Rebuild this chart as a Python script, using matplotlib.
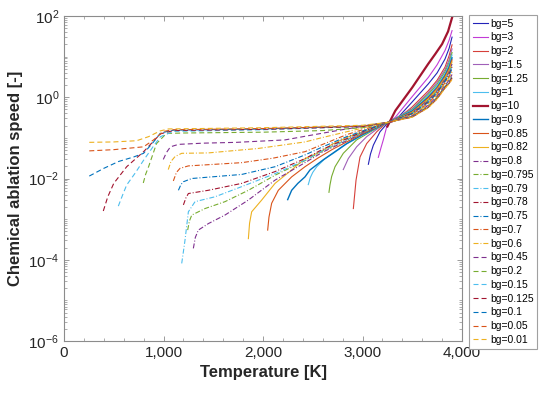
import numpy as np
import matplotlib
matplotlib.use("Agg")
import matplotlib.pyplot as plt
from matplotlib.ticker import FuncFormatter, LogLocator, MultipleLocator, NullFormatter

plt.rcParams['font.family'] = ['Liberation Sans', 'DejaVu Sans']
plt.rcParams['lines.scale_dashes'] = False

# Temperature [K] and log10(chemical ablation speed)
t_bg5 = [3059, 3080, 3109, 3176, 3250, 3327, 3494, 3662, 3750, 3829, 3870, 3900]
lv_bg5 = [-1.65, -1.40, -1.18, -0.85, -0.64, -0.58, -0.13, 0.33, 0.60, 0.94, 1.20, 1.48]
t_bg3 = [3159, 3185, 3209, 3243, 3270, 3327, 3494, 3662, 3750, 3829, 3870, 3900]
lv_bg3 = [-1.48, -1.25, -1.05, -0.73, -0.60, -0.50, 0.00, 0.49, 0.80, 1.15, 1.40, 1.64]
t_bg2 = [2908, 2935, 2975, 3042, 3143, 3226, 3327, 3494, 3662, 3750, 3829, 3870, 3900]
lv_bg2 = [-2.74, -2.04, -1.47, -1.14, -0.85, -0.66, -0.58, -0.25, 0.16, 0.42, 0.74, 1.02, 1.29]
t_bg1_5 = [2807, 2857, 2941, 3042, 3176, 3250, 3500, 3660, 3750, 3830, 3870, 3900]
lv_bg1_5 = [-1.78, -1.51, -1.22, -0.97, -0.73, -0.63, -0.28, 0.11, 0.37, 0.68, 0.92, 1.19]
t_bg1_25 = [2663, 2673, 2690, 2724, 2807, 2941, 3109, 3250, 3500, 3660, 3750, 3830, 3870, 3900]
lv_bg1_25 = [-2.34, -2.16, -1.95, -1.71, -1.38, -1.05, -0.81, -0.63, -0.30, 0.07, 0.32, 0.63, 0.85, 1.10]
t_bg1 = [2455, 2475, 2500, 2540, 2620, 2707, 2840, 2975, 3120, 3250, 3500, 3660, 3750, 3830, 3870, 3900]
lv_bg1 = [-2.15, -1.98, -1.85, -1.71, -1.52, -1.38, -1.15, -0.97, -0.78, -0.63, -0.32, 0.03, 0.28, 0.58, 0.80, 1.04]
t_bg10 = [3250, 3330, 3500, 3580, 3660, 3730, 3800, 3860, 3905]
lv_bg10 = [-0.72, -0.33, 0.24, 0.53, 0.82, 1.06, 1.31, 1.62, 2.00]
t_bg0_9 = [2248, 2288, 2350, 2422, 2472, 2600, 2700, 2841, 3000, 3150, 3250, 3500, 3660, 3750, 3830, 3870, 3900]
lv_bg0_9 = [-2.52, -2.29, -2.12, -1.96, -1.79, -1.55, -1.38, -1.14, -0.92, -0.74, -0.63, -0.34, 0.00, 0.24, 0.54, 0.74, 0.97]
t_bg0_85 = [2047, 2060, 2087, 2154, 2288, 2422, 2550, 2700, 2841, 3000, 3150, 3250, 3500, 3660, 3750, 3830, 3870, 3900]
lv_bg0_85 = [-3.27, -2.95, -2.61, -2.29, -1.96, -1.71, -1.50, -1.28, -1.10, -0.90, -0.73, -0.63, -0.36, -0.02, 0.22, 0.51, 0.70, 0.92]
t_bg0_82 = [1853, 1865, 1886, 1987, 2121, 2288, 2422, 2573, 2700, 2841, 3000, 3150, 3250, 3500, 3660, 3750, 3830, 3870, 3900]
lv_bg0_82 = [-3.48, -3.10, -2.82, -2.53, -2.12, -1.79, -1.51, -1.35, -1.15, -0.99, -0.85, -0.72, -0.63, -0.37, -0.05, 0.19, 0.48, 0.66, 0.87]
t_bg0_8 = [1300, 1320, 1350, 1451, 1618, 1853, 2121, 2422, 2600, 2841, 3000, 3150, 3250, 3500, 3660, 3750, 3830, 3870, 3900]
lv_bg0_8 = [-3.72, -3.45, -3.27, -3.11, -2.90, -2.53, -2.04, -1.61, -1.35, -1.07, -0.88, -0.72, -0.63, -0.38, -0.07, 0.16, 0.45, 0.62, 0.82]
t_bg0_795 = [1243, 1260, 1284, 1417, 1618, 1853, 2121, 2422, 2600, 2841, 3000, 3150, 3250, 3500, 3660, 3750, 3830, 3870, 3900]
lv_bg0_795 = [-3.27, -3.05, -2.90, -2.74, -2.57, -2.29, -1.92, -1.56, -1.32, -1.05, -0.87, -0.72, -0.63, -0.39, -0.08, 0.15, 0.44, 0.61, 0.80]
t_bg0_79 = [1183, 1200, 1216, 1250, 1317, 1518, 1786, 2121, 2422, 2600, 2841, 3000, 3150, 3250, 3500, 3660, 3750, 3830, 3870, 3900]
lv_bg0_79 = [-4.09, -3.80, -3.52, -2.82, -2.57, -2.45, -2.20, -1.88, -1.55, -1.31, -1.04, -0.86, -0.72, -0.63, -0.40, -0.10, 0.13, 0.42, 0.58, 0.77]
t_bg0_78 = [1200, 1225, 1250, 1451, 1786, 2121, 2422, 2600, 2841, 3000, 3150, 3250, 3500, 3660, 3750, 3830, 3870, 3900]
lv_bg0_78 = [-2.65, -2.48, -2.37, -2.29, -2.12, -1.83, -1.51, -1.28, -1.02, -0.85, -0.71, -0.63, -0.40, -0.11, 0.12, 0.41, 0.57, 0.75]
t_bg0_75 = [1150, 1175, 1200, 1284, 1786, 2121, 2422, 2600, 2841, 3000, 3150, 3250, 3500, 3660, 3750, 3830, 3870, 3900]
lv_bg0_75 = [-2.29, -2.15, -2.08, -2.00, -1.90, -1.71, -1.42, -1.22, -0.97, -0.83, -0.70, -0.62, -0.41, -0.13, 0.10, 0.39, 0.54, 0.71]
t_bg0_7 = [1099, 1130, 1166, 1250, 1786, 2100, 2422, 2600, 2841, 3000, 3150, 3250, 3500, 3660, 3750, 3830, 3870, 3900]
lv_bg0_7 = [-2.06, -1.85, -1.75, -1.69, -1.61, -1.50, -1.34, -1.16, -0.92, -0.80, -0.69, -0.62, -0.43, -0.15, 0.08, 0.36, 0.50, 0.67]
t_bg0_6 = [1048, 1075, 1116, 1183, 1451, 1953, 2422, 2600, 2841, 3000, 3150, 3250, 3500, 3660, 3750, 3830, 3870, 3900]
lv_bg0_6 = [-1.78, -1.58, -1.46, -1.38, -1.37, -1.26, -1.10, -0.99, -0.85, -0.76, -0.67, -0.62, -0.44, -0.17, 0.05, 0.33, 0.47, 0.62]
t_bg0_45 = [998, 1030, 1070, 1150, 1400, 1735, 2221, 2470, 2840, 3100, 3250, 3500, 3660, 3750, 3830, 3870, 3900]
lv_bg0_45 = [-1.53, -1.36, -1.22, -1.16, -1.13, -1.11, -1.05, -0.94, -0.78, -0.68, -0.62, -0.46, -0.20, 0.02, 0.29, 0.42, 0.56]
t_bg0_2 = [797, 820, 850, 930, 1030, 1200, 2000, 2600, 3000, 3250, 3500, 3660, 3750, 3830, 3870, 3900]
lv_bg0_2 = [-2.11, -1.90, -1.71, -1.14, -0.89, -0.88, -0.86, -0.82, -0.75, -0.63, -0.47, -0.22, 0.00, 0.27, 0.39, 0.52]
t_bg0_15 = [546, 590, 630, 720, 800, 900, 970, 1100, 2000, 3000, 3250, 3500, 3660, 3750, 3830, 3870, 3900]
lv_bg0_15 = [-2.68, -2.40, -2.16, -1.85, -1.55, -1.20, -0.97, -0.84, -0.80, -0.72, -0.62, -0.47, -0.23, -0.01, 0.26, 0.37, 0.50]
t_bg0_125 = [395, 440, 500, 630, 800, 900, 970, 1100, 2000, 3000, 3250, 3500, 3660, 3750, 3830, 3870, 3900]
lv_bg0_125 = [-2.80, -2.45, -2.12, -1.71, -1.34, -1.08, -0.90, -0.82, -0.79, -0.72, -0.62, -0.48, -0.24, -0.02, 0.25, 0.36, 0.48]
t_bg0_1 = [254, 400, 550, 700, 800, 900, 970, 1100, 2000, 3000, 3250, 3500, 3660, 3750, 3830, 3870, 3900]
lv_bg0_1 = [-1.94, -1.75, -1.58, -1.47, -1.38, -1.10, -0.88, -0.81, -0.78, -0.71, -0.62, -0.48, -0.25, -0.03, 0.24, 0.35, 0.47]
t_bg0_05 = [254, 500, 800, 900, 1000, 1100, 2000, 3000, 3250, 3500, 3660, 3750, 3830, 3870, 3900]
lv_bg0_05 = [-1.32, -1.29, -1.22, -1.05, -0.84, -0.80, -0.77, -0.71, -0.62, -0.49, -0.25, -0.04, 0.23, 0.34, 0.45]
t_bg0_01 = [254, 500, 730, 850, 965, 1050, 2000, 3000, 3250, 3500, 3660, 3750, 3830, 3870, 3900]
lv_bg0_01 = [-1.11, -1.10, -1.07, -0.97, -0.83, -0.78, -0.75, -0.69, -0.62, -0.49, -0.26, -0.04, 0.22, 0.33, 0.44]

labels = ['bg=5', 'bg=3', 'bg=2', 'bg=1.5', 'bg=1.25', 'bg=1', 'bg=10', 'bg=0.9',
          'bg=0.85', 'bg=0.82', 'bg=0.8', 'bg=0.795', 'bg=0.79', 'bg=0.78', 'bg=0.75',
          'bg=0.7', 'bg=0.6', 'bg=0.45', 'bg=0.2', 'bg=0.15', 'bg=0.125', 'bg=0.1',
          'bg=0.05', 'bg=0.01']
temps = [t_bg5, t_bg3, t_bg2, t_bg1_5, t_bg1_25, t_bg1, t_bg10, t_bg0_9, t_bg0_85, t_bg0_82,
         t_bg0_8, t_bg0_795, t_bg0_79, t_bg0_78, t_bg0_75, t_bg0_7, t_bg0_6,
         t_bg0_45, t_bg0_2, t_bg0_15, t_bg0_125, t_bg0_1, t_bg0_05, t_bg0_01]
log_speeds = [lv_bg5, lv_bg3, lv_bg2, lv_bg1_5, lv_bg1_25, lv_bg1, lv_bg10, lv_bg0_9, lv_bg0_85, lv_bg0_82,
              lv_bg0_8, lv_bg0_795, lv_bg0_79, lv_bg0_78, lv_bg0_75, lv_bg0_7, lv_bg0_6,
              lv_bg0_45, lv_bg0_2, lv_bg0_15, lv_bg0_125, lv_bg0_1, lv_bg0_05, lv_bg0_01]

# MATLAB-like palette
blue, orange, yellow = '#0072bd', '#d95319', '#edb120'
purple, green, cyan, darkred = '#7e2f8e', '#77ac30', '#4dbeee', '#a2142f'
colors = ['#2323b8', '#c23bd6', '#d6403a', '#a060b8', green, cyan, darkred, blue,
          orange, yellow,
          purple, green, cyan, darkred, blue, orange, yellow,
          purple, green, cyan, darkred, blue, orange, yellow]
styles = ['-'] * 10 + ['-.'] * 7 + ['--'] * 7

fig = plt.figure(figsize=(5.4, 3.97), dpi=100)
ax = fig.add_axes([64 / 540, 1 - 341 / 397, 398 / 540, 325 / 397])

for t, lv, c, ls, lab in zip(temps, log_speeds, colors, styles, labels):
    lw = 0.8
    if lab == 'bg=10':
        lw = 1.6
    elif lab == 'bg=0.9':
        lw = 1.0
    line, = ax.plot(t, 10 ** np.array(lv), color=c, lw=lw, label=lab)
    if ls == '--':
        line.set_dashes((3.6, 2.2))
    elif ls == '-.':
        line.set_dashes((3.6, 1.4, 0.7, 1.4))

ax.set_yscale('log')
ax.set_xlim(0, 4000)
ax.set_ylim(1e-6, 1e2)
ax.set_yticks([1e-6, 1e-4, 1e-2, 1, 1e2])
ax.yaxis.set_minor_locator(LogLocator(base=10, subs=np.arange(1, 10), numticks=100))
ax.yaxis.set_minor_formatter(NullFormatter())
ax.xaxis.set_major_locator(MultipleLocator(1000))
ax.xaxis.set_minor_locator(MultipleLocator(200))
ax.xaxis.set_major_formatter(FuncFormatter(lambda x, pos: f"{x:,.0f}"))

frame = '#8c8c8c'
for s in ax.spines.values():
    s.set_color(frame)
    s.set_linewidth(0.8)
ax.tick_params(which='both', direction='in', top=True, right=True, color=frame,
               labelcolor='#262626', labelsize=11)
ax.tick_params(which='major', length=3.5, width=0.6)
ax.tick_params(which='minor', length=2, width=0.5)

ax.set_xlabel('Temperature [K]', fontsize=12, fontweight='bold', color='#262626')
ax.set_ylabel('Chemical ablation speed [-]', fontsize=12, fontweight='bold', color='#262626')

leg = ax.legend(loc='upper left', bbox_to_anchor=(1.0176, 1.003), borderaxespad=0,
                fontsize=7.5, labelspacing=0.36, handlelength=1.5, handletextpad=0.15,
                borderpad=0.35, fancybox=False, framealpha=1, edgecolor='#a0a0a0')
leg.get_frame().set_linewidth(0.8)

fig.savefig('out.png', dpi=100)
